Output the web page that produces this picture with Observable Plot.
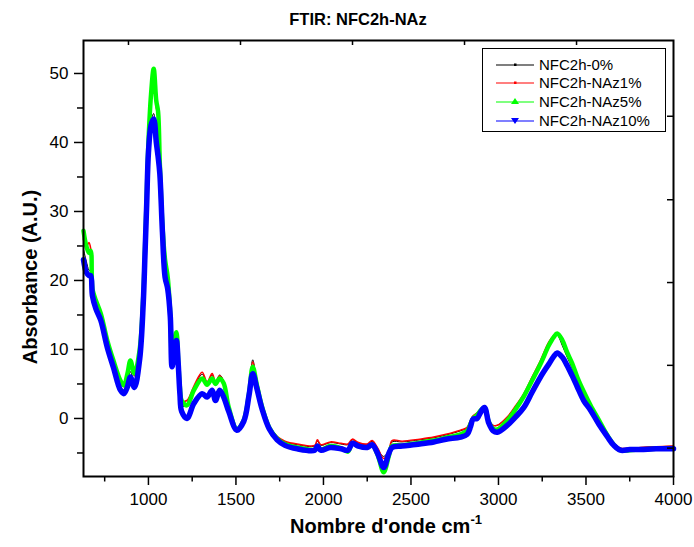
<!DOCTYPE html>
<html><head><meta charset="utf-8">
<script src="https://cdn.jsdelivr.net/npm/d3@7"></script>
<script src="https://cdn.jsdelivr.net/npm/@observablehq/plot@0.6"></script>
<style>
body{margin:0;background:#fff;font-family:Arial,"Liberation Sans",sans-serif;}
#wrap{position:relative;width:694px;height:547px;}
#legend{position:absolute;left:482px;top:48px;width:182px;height:82px;border:1px solid #000;background:#fff;}
.row{position:absolute;left:0;height:18px;width:180px;}
.row svg{position:absolute;left:0;top:0;}
.row span{position:absolute;left:56px;top:0;font-size:15px;line-height:18px;color:#000;white-space:nowrap;}
</style></head><body><div id="wrap"></div>
<script>
const wavenumber = [629,645,660,670,680,700,728,765,800,840,860,880,897,920,950,970,980,990,1000,1015,1030,1045,1055,1065,1080,1095,1110,1125,1135,1150,1160,1170,1180,1190,1220,1260,1307,1335,1364,1383,1407,1430,1459,1505,1545,1575,1596,1620,1650,1690,1735,1780,1850,1950,1965,1985,2040,2100,2140,2165,2200,2250,2278,2310,2344,2373,2392,2450,2550,2630,2700,2783,2821,2840,2855,2878,2900,2920,2945,2970,2993,3050,3097,3145,3192,3240,3288,3316,3335,3364,3392,3421,3450,3487,3526,3573,3621,3659,3697,3750,3811,3900,4000];
const nfc0 = [24.5,22.8,21.5,21.3,18.4,16.4,14.6,10.7,7.8,4.7,4.1,5.0,6.8,5.2,9.0,16.8,23.8,31.5,39.0,43.0,44.2,40.5,38.5,35.8,27.3,21.0,19.2,14.8,7.8,10.4,11.6,8.1,3.9,1.7,2.2,4.4,6.4,5.2,6.3,5.3,6.3,5.4,1.7,-1.5,-0.2,3.8,8.5,5.0,1.7,-1.2,-2.7,-3.4,-3.8,-4.0,-3.3,-3.9,-3.5,-3.7,-3.8,-3.1,-3.6,-3.8,-3.3,-4.5,-5.5,-4.6,-3.4,-3.4,-3.1,-2.8,-2.4,-1.8,-1.4,-0.4,0.3,0.8,1.4,1.6,-0.3,-1.0,-1.0,0.2,1.7,3.5,5.9,8.3,11.0,11.8,12.1,10.6,8.9,7.3,5.4,3.4,1.6,-0.4,-2.3,-3.6,-4.3,-4.3,-4.2,-4.1,-4.0];
const naz1 = [26.0,24.8,25.5,24.6,19.0,16.9,15.0,11.1,8.2,5.3,4.6,6.2,8.0,6.2,9.7,17.3,24.1,31.8,39.6,46.5,49.5,45.0,44.0,36.8,27.8,22.6,20.2,14.9,8.3,11.2,12.3,8.3,4.3,2.6,2.6,4.7,6.7,5.3,6.5,5.3,6.2,5.3,1.8,-1.4,-0.1,3.9,8.2,5.0,1.8,-1.1,-2.6,-3.3,-3.7,-3.9,-3.1,-3.8,-3.4,-3.6,-3.7,-3.0,-3.5,-3.7,-3.2,-4.3,-5.8,-4.8,-3.2,-3.3,-3.0,-2.7,-2.3,-1.7,-1.3,-0.3,0.4,0.8,1.4,1.6,-0.3,-1.0,-1.0,0.2,1.8,3.6,6.0,8.4,11.1,12.0,12.4,11.3,9.6,7.8,5.8,3.6,1.8,-0.3,-2.3,-3.6,-4.3,-4.3,-4.2,-4.1,-4.0];
const naz5 = [27.2,25.0,24.0,24.3,18.8,17.1,15.2,11.3,8.4,5.5,4.8,6.5,8.4,6.5,10.0,17.5,24.3,32.0,40.0,47.0,50.7,46.0,44.5,37.0,28.0,23.0,20.5,15.0,8.6,11.5,12.5,8.4,4.5,2.6,1.9,4.1,5.8,4.9,5.8,5.0,5.8,5.1,1.6,-1.5,-0.2,3.7,7.5,4.8,1.6,-1.3,-2.9,-3.7,-4.2,-4.5,-4.0,-4.5,-4.0,-4.3,-4.8,-3.6,-4.0,-4.2,-3.8,-5.3,-7.8,-5.5,-4.0,-3.9,-3.5,-3.2,-2.8,-2.3,-1.8,-0.8,0.0,0.5,1.2,1.6,-0.5,-1.5,-1.6,-0.3,1.3,3.2,5.5,7.9,10.6,11.8,12.3,11.4,9.6,8.0,6.0,3.9,1.9,-0.2,-2.4,-3.8,-4.6,-4.6,-4.5,-4.4,-4.4];
const naz10 = [23.0,21.2,20.7,20.7,17.8,15.9,14.2,10.3,7.4,4.1,3.6,4.6,6.0,4.5,8.6,16.5,23.5,31.0,38.5,42.5,43.4,40.0,38.0,35.5,27.0,20.5,18.8,14.7,7.5,10.0,11.3,8.0,3.5,1.0,0.0,2.2,3.6,3.1,4.1,2.6,4.1,3.1,1.0,-1.7,-0.4,3.4,6.5,4.3,1.3,-1.5,-3.1,-3.9,-4.4,-4.6,-4.0,-4.6,-4.2,-4.4,-4.6,-3.6,-4.0,-4.2,-3.8,-5.1,-7.1,-5.1,-4.2,-4.0,-3.7,-3.4,-3.0,-2.7,-2.3,-1.2,-0.1,0.0,1.0,1.6,-0.7,-1.8,-2.0,-1.0,0.2,1.6,3.8,6.0,7.9,9.0,9.5,8.9,7.7,6.2,4.6,2.6,1.2,-0.8,-2.6,-3.9,-4.6,-4.5,-4.5,-4.4,-4.4];

const seriesNames = ["NFC2h-0%","NFC2h-NAz1%","NFC2h-NAz5%","NFC2h-NAz10%"];
const seriesColors = ["#000000","#ff0000","#00ff00","#0000ff"];
const seriesValues = [nfc0, naz1, naz5, naz10];
const seriesWidths = [1, 1.6, 4.5, 5.5];

const xTicks = [1000,1500,2000,2500,3000,3500,4000];
const xMinor = [750,1250,1750,2250,2750,3250,3750];
const yTicks = [0,10,20,30,40,50];
const yMinor = [-5,5,15,25,35,45];
const topTicks = [886,1526,2166,2806,3446];
const rightTicks = [43.8,31.7,19.7,7.7,-4.3];

const titleText = "FTIR: NFC2h-NAz";
const xLabelText = "Nombre d'onde cm";
const xLabelSup = "-1";
const yLabelText = "Absorbance (A.U.)";

const lines = seriesNames.map((name, s) =>
  Plot.line(wavenumber.map((x, i) => ({x, y: seriesValues[s][i]})), {
    x: "x", y: "y", curve: "catmull-rom", stroke: seriesColors[s], strokeWidth: seriesWidths[s], strokeLinejoin: "round", strokeLinecap: "round"
  })
);

const svg = Plot.plot({
  width: 694, height: 547,
  marginLeft: 83, marginRight: 21, marginTop: 40, marginBottom: 71,
  style: {fontFamily: "Arial, 'Liberation Sans', sans-serif", fontSize: "17px", color: "#000", background: "#fff"},
  x: {domain: [629, 4000]},
  y: {domain: [-8.41, 54.78]},
  marks: [
    ...lines,
    Plot.axisX({ticks: xTicks, tickSize: 9, tickPadding: 7, fontSize: 17, strokeWidth: 1.5, label: null, tickFormat: d => String(d)}),
    Plot.axisX({ticks: xMinor, tickSize: 5.5, strokeWidth: 1.5, label: null, tickFormat: () => ""}),
    Plot.axisY({ticks: yTicks, tickSize: 9, tickPadding: 6, fontSize: 17, strokeWidth: 1.5, label: null}),
    Plot.axisY({ticks: yMinor, tickSize: 6, strokeWidth: 1.5, label: null, tickFormat: () => ""}),
    Plot.tickX(topTicks, {x: d => d, insetBottom: 431, stroke: "#000", strokeWidth: 1.5}),
    Plot.tickY(rightTicks, {y: d => d, insetLeft: 584, stroke: "#000", strokeWidth: 1.5}),
    Plot.frame({stroke: "#000", strokeWidth: 2})
  ]
});

const s = d3.select(svg);
s.append("text").attr("x", 358).attr("y", 25).attr("text-anchor", "middle")
  .attr("font-size", 16.5).attr("font-weight", "bold").attr("fill", "#000").text(titleText);
s.append("text").attr("transform", "translate(37,277) rotate(-90)").attr("text-anchor", "middle")
  .attr("font-size", 20).attr("font-weight", "bold").attr("fill", "#000").text(yLabelText);
const xl = s.append("text").attr("x", 386).attr("y", 533).attr("text-anchor", "middle")
  .attr("font-size", 20).attr("font-weight", "bold").attr("fill", "#000");
xl.append("tspan").text(xLabelText);
xl.append("tspan").attr("font-size", 13).attr("dy", -9).text(xLabelSup);

const wrap = document.getElementById("wrap");
wrap.appendChild(svg);

const legend = document.createElement("div");
legend.id = "legend";
seriesNames.forEach((name, i) => {
  const row = document.createElement("div");
  row.className = "row";
  row.style.top = (6.5 + i * 18.7) + "px";
  const ns = "http://www.w3.org/2000/svg";
  const sv = document.createElementNS(ns, "svg");
  sv.setAttribute("width", 56); sv.setAttribute("height", 18);
  const ln = document.createElementNS(ns, "line");
  ln.setAttribute("x1", 13); ln.setAttribute("x2", 51); ln.setAttribute("y1", 9); ln.setAttribute("y2", 9);
  ln.setAttribute("stroke", seriesColors[i]); ln.setAttribute("stroke-width", 1.2);
  sv.appendChild(ln);
  let mk;
  if (i < 2) {
    mk = document.createElementNS(ns, "rect");
    mk.setAttribute("x", 31); mk.setAttribute("y", 7.5); mk.setAttribute("width", 2.5); mk.setAttribute("height", 2.5);
  } else {
    mk = document.createElementNS(ns, "path");
    mk.setAttribute("d", i === 2 ? "M32,5 L36,11 L28,11 Z" : "M28,6 L36,6 L32,12 Z");
  }
  mk.setAttribute("fill", seriesColors[i]);
  sv.appendChild(mk);
  row.appendChild(sv);
  const sp = document.createElement("span");
  sp.textContent = name;
  row.appendChild(sp);
  legend.appendChild(row);
});
wrap.appendChild(legend);
</script>
</body></html>
